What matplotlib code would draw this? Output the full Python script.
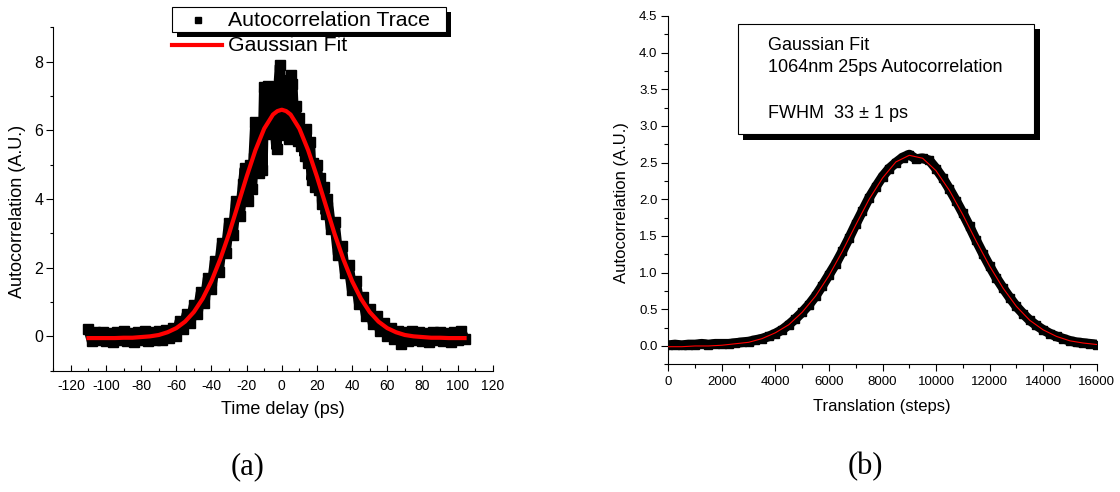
import matplotlib
matplotlib.use("Agg")
import matplotlib.pyplot as plt
from matplotlib.patches import Rectangle
from matplotlib.lines import Line2D
from matplotlib.ticker import MultipleLocator, FormatStrFormatter

plt.rcParams['font.family'] = ['Liberation Sans', 'DejaVu Sans']
plt.rcParams['axes.unicode_minus'] = False

# (a) measured trace vs time delay (ps)
delay_ps = [-110, -108, -106, -104, -102, -100, -98, -96, -94, -92, -90, -88, -86, -84,
            -82, -80, -78, -76, -74, -72, -70, -68, -66, -64, -62, -60,
            -58, -56, -54, -52, -50, -48, -46, -44, -42, -40, -38, -36, -34, -32,
            -30, -28, -26, -24, -22, -21, -20, -19, -18, -17, -16, -15, -14, -13,
            -12, -11, -10, -9, -8, -7, -6, -5, -4, -3, -2, -1, 0, 1, 2, 3, 4, 5,
            6, 7, 8, 9, 10, 11, 12, 13, 14, 15, 16, 17, 18, 19, 20, 21, 22, 23,
            24, 25, 26, 28, 30, 32, 34, 36, 38, 40, 42, 44, 46, 48, 50, 52, 54,
            56, 58, 60, 62, 64, 66, 68, 70, 72, 74, 76, 78, 80, 82, 84, 86, 88,
            90, 92, 94, 96, 98, 100, 102, 104]
trace_a = [0.22, -0.14, 0.12, -0.12, 0.14, -0.13, 0.10, -0.15, 0.13, -0.10, 0.16, -0.13, 0.10, -0.15,
           0.13, -0.11, 0.15, -0.13, 0.12, -0.10, 0.16, -0.12, 0.18, -0.06, 0.24, 0.02,
           0.45, 0.22, 0.66, 0.40, 0.90, 0.66, 1.28, 0.98, 1.70, 1.38, 2.20, 1.88, 2.72, 2.42,
           3.30, 2.95, 3.95, 3.50, 4.45, 4.90, 4.10, 3.95, 5.00, 4.30, 5.20, 6.25, 5.30, 4.75,
           6.15, 4.85, 7.25, 6.30, 7.30, 5.90, 6.60, 7.15, 6.10, 5.45, 7.15, 7.90, 6.40, 7.45, 5.85, 6.40, 5.75, 7.60,
           7.35, 6.20, 6.70, 5.70, 6.35, 5.55, 5.95, 5.25, 6.05, 5.05, 5.65, 4.55, 5.05, 4.35, 5.00, 4.25, 4.60, 3.85,
           4.35, 3.55, 4.00, 3.12, 3.32, 2.38, 2.62, 1.84, 2.08, 1.34, 1.62, 0.95, 1.16, 0.60, 0.80, 0.35, 0.58,
           0.16, 0.38, 0.02, 0.24, -0.08, 0.17, -0.22, 0.12, -0.13, 0.15, -0.11, 0.13, -0.13, 0.10, -0.15, 0.14, -0.11,
           0.12, -0.13, 0.10, -0.15, 0.13, -0.11, 0.15, -0.08]

# (a) gaussian fit
fit_delay_ps = [-110, -105, -100, -95, -90, -85, -80, -75, -70, -65, -60, -55, -50, -45,
                -40, -35, -30, -25, -20, -15, -10, -5, -2.5, 0, 2.5, 5, 10, 15, 20, 25,
                30, 35, 40, 45, 50, 55, 60, 65, 70, 75, 80, 85, 90, 95, 100, 104]
fit_a = [-0.05, -0.05, -0.05, -0.05, -0.04, -0.04, -0.02, 0.00, 0.04, 0.12, 0.24, 0.43, 0.71, 1.10,
         1.61, 2.25, 2.99, 3.82, 4.65, 5.42, 6.05, 6.46, 6.56, 6.60, 6.56, 6.46, 6.05, 5.42, 4.65, 3.82,
         2.99, 2.25, 1.61, 1.10, 0.71, 0.43, 0.24, 0.12, 0.04, 0.00, -0.02, -0.04, -0.04, -0.05, -0.05, -0.05]

# (b) measured trace vs translation stage steps
steps = list(range(0, 16001, 250))
trace_b = [0.01, 0.02, 0.01, 0.02, 0.02, 0.03, 0.02, 0.03, 0.03, 0.03, 0.04, 0.05, 0.06, 0.08,
           0.10, 0.13, 0.17, 0.22, 0.29, 0.37, 0.46, 0.56, 0.68, 0.82, 0.97, 1.12, 1.29, 1.47,
           1.66, 1.84, 2.02, 2.17, 2.31, 2.42, 2.50, 2.57, 2.61, 2.55, 2.56, 2.53, 2.42, 2.29,
           2.14, 1.98, 1.81, 1.63, 1.44, 1.26, 1.09, 0.93, 0.79, 0.66, 0.54, 0.44, 0.35, 0.28,
           0.22, 0.17, 0.13, 0.10, 0.07, 0.05, 0.04, 0.03, 0.02]

fit_steps = list(range(0, 16001, 500))
fit_b = [-0.01, -0.01, 0.00, 0.00, 0.01, 0.03, 0.05, 0.10, 0.18, 0.29, 0.46, 0.68, 0.96,
         1.29, 1.65, 2.00, 2.29, 2.51, 2.60, 2.56, 2.39, 2.12, 1.79, 1.43, 1.09, 0.79, 0.54,
         0.35, 0.22, 0.13, 0.07, 0.04, 0.02]

legend_labels = ["Autocorrelation Trace", "Gaussian Fit"]
box_lines = ["Gaussian Fit", "1064nm 25ps Autocorrelation", "FWHM  33 \u00b1 1 ps"]

W, H = 1120, 492
fig = plt.figure(figsize=(W / 100, H / 100), dpi=100)


def fx(p):
    return p / W


def fy(p):
    return 1 - p / H


def shadow_box(x0, y0, x1, y1, off):
    fig.add_artist(Rectangle((fx(x0 + off), fy(y1 + off)), fx(x1 - x0), (y1 - y0) / H,
                             transform=fig.transFigure, facecolor='black', edgecolor='none'))
    fig.add_artist(Rectangle((fx(x0), fy(y1)), fx(x1 - x0), (y1 - y0) / H,
                             transform=fig.transFigure, facecolor='white', edgecolor='black', lw=0.8))


# ---- panel (a)
ax1 = fig.add_axes([fx(53.3), fy(370.7), fx(492.7 - 53.3), (370.7 - 27.3) / H])
ax1.plot(delay_ps, trace_a, color='black', lw=7.5, marker='s', ms=7, mec='black', mfc='black',
         solid_joinstyle='bevel', solid_capstyle='butt', zorder=2)
ax1.plot(fit_delay_ps, fit_a, color='#ff0000', lw=3, zorder=3)
ax1.set_xlim(-130, 120)
ax1.set_ylim(-1, 9)
ax1.xaxis.set_major_locator(MultipleLocator(20))
ax1.xaxis.set_minor_locator(MultipleLocator(10))
ax1.yaxis.set_major_locator(MultipleLocator(2))
ax1.yaxis.set_minor_locator(MultipleLocator(1))
ax1.spines['top'].set_visible(False)
ax1.spines['right'].set_visible(False)
for s in ['left', 'bottom']:
    ax1.spines[s].set_linewidth(0.8)
ax1.tick_params(axis='x', which='major', direction='in', length=4.2, width=0.8, pad=6, labelsize=10)
ax1.tick_params(axis='x', which='minor', direction='in', length=2.5, width=0.8)
ax1.tick_params(axis='y', which='major', direction='out', length=4.8, width=0.8, pad=2.5, labelsize=11.5)
ax1.tick_params(axis='y', which='minor', direction='out', length=2.4, width=0.8)
ax1.patch.set_alpha(0)

fig.text(fx(18), fy(211.6), "Autocorrelation (A.U.)", rotation=90, ha='center', va='center', fontsize=13)
fig.text(fx(282.5), fy(410), "Time delay (ps)", ha='center', va='center', fontsize=13)

# legend drawn like the original (only first entry boxed)
shadow_box(172.3, 6.7, 446, 31.7, 4.8)
fig.add_artist(Line2D([fx(198)], [fy(20)], marker='s', ms=5, color='black', ls='none',
                      transform=fig.transFigure))
fig.text(fx(228), fy(20.5), legend_labels[0], ha='left', va='center', fontsize=15.3)
fig.add_artist(Line2D([fx(172), fx(221.7)], [fy(45), fy(45)], color='#ff0000', lw=3,
                      transform=fig.transFigure))
fig.text(fx(228), fy(45.5), legend_labels[1], ha='left', va='center', fontsize=15.3)

# ---- panel (b)
ax2 = fig.add_axes([fx(668.3), fy(364.3), fx(1096.7 - 668.3), (364.3 - 16) / H])
ax2.plot(steps, trace_b, color='black', lw=7, marker='s', ms=6, mec='black', mfc='black',
         solid_joinstyle='round', zorder=2)
ax2.plot(fit_steps, fit_b, color='#ff0000', lw=0.8, zorder=3)
ax2.set_xlim(0, 16000)
ax2.set_ylim(-0.25, 4.5)
ax2.xaxis.set_major_locator(MultipleLocator(2000))
ax2.xaxis.set_minor_locator(MultipleLocator(1000))
ax2.yaxis.set_major_locator(MultipleLocator(0.5))
ax2.yaxis.set_minor_locator(MultipleLocator(0.25))
ax2.yaxis.set_major_formatter(FormatStrFormatter('%.1f'))
ax2.spines['top'].set_visible(False)
ax2.spines['right'].set_visible(False)
for s in ['left', 'bottom']:
    ax2.spines[s].set_linewidth(0.8)
ax2.tick_params(axis='x', which='major', direction='out', length=5.2, width=0.8, pad=3, labelsize=9.5)
ax2.tick_params(axis='x', which='minor', direction='out', length=3, width=0.8)
ax2.tick_params(axis='y', which='major', direction='out', length=4.8, width=0.8, pad=3, labelsize=9.5)
ax2.tick_params(axis='y', which='minor', direction='out', length=3, width=0.8)
ax2.patch.set_alpha(0)

fig.text(fx(621.7), fy(202.5), "Autocorrelation (A.U.)", rotation=90, ha='center', va='center', fontsize=12)
fig.text(fx(882), fy(406.7), "Translation (steps)", ha='center', va='center', fontsize=12)

shadow_box(737.7, 24, 1034.3, 134.3, 5.3)
for txt, yy in zip(box_lines, [45.7, 67.7, 113.3]):
    fig.text(fx(767.7), fy(yy), txt, ha='left', va='center', fontsize=13)

# panel captions
fig.text(fx(248), fy(467), "(a)", ha='center', va='center', fontsize=22, family='Liberation Serif')
fig.text(fx(865), fy(467), "(b)", ha='center', va='center', fontsize=22, family='Liberation Serif')

fig.savefig("out.png", dpi=100)
